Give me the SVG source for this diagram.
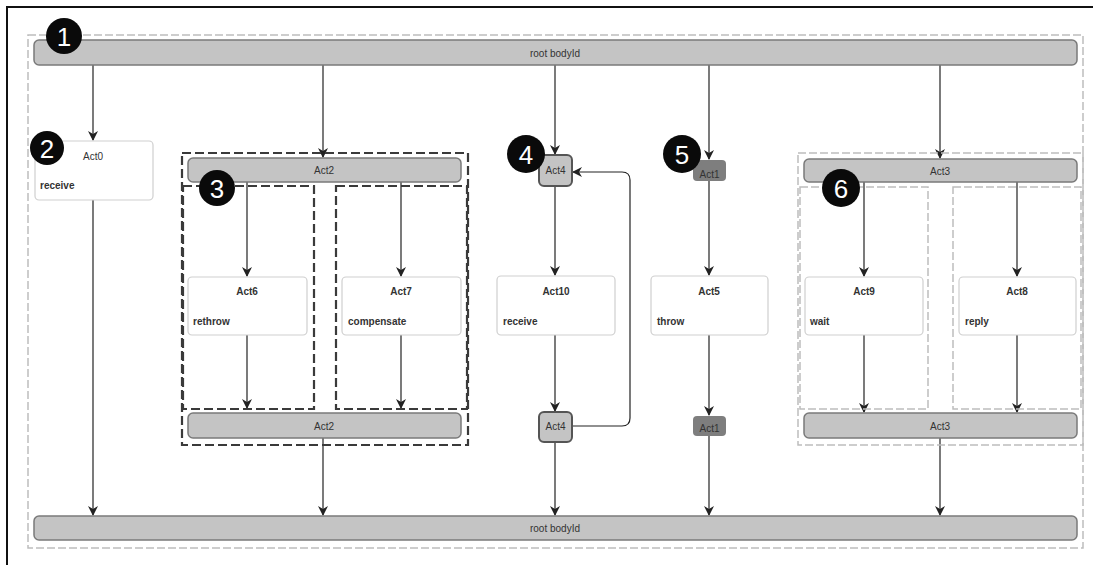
<svg xmlns="http://www.w3.org/2000/svg" width="1093" height="565" viewBox="0 0 1093 565">
<style>
  .bar{fill:#c4c4c4;stroke:#7a7a7a;stroke-width:1.5}
  .box{fill:#fff;stroke:#cfcfcf;stroke-width:1.2}
  .t{font-family:"Liberation Sans",Arial,sans-serif;font-size:10px;fill:#333}
  .tc{text-anchor:middle}
  .tb{font-family:"Liberation Sans",Arial,sans-serif;font-size:10px;fill:#333;font-weight:bold}
  .edge{fill:none;stroke:#222;stroke-width:1.2;marker-end:url(#ah)}
  .dk{fill:none;stroke:#3a3a3a;stroke-width:2.2;stroke-dasharray:9,4}
  .lt{fill:none;stroke:#bdbdbd;stroke-width:1.5;stroke-dasharray:8,3}
  .badge circle{fill:#0a0a0a}
  .badge text{font-family:"Liberation Sans",Arial,sans-serif;font-size:26px;fill:#fff;text-anchor:middle}
</style>
<defs>
  <marker id="ah" markerWidth="10" markerHeight="10" refX="9" refY="5" orient="auto" markerUnits="userSpaceOnUse">
    <path d="M0,0 L10,5 L0,10 L3,5 z" fill="#222"/>
  </marker>
</defs>
<rect width="1093" height="565" fill="#fff"/>
<path d="M7,565 V7 H1093" fill="none" stroke="#111" stroke-width="2"/>
<rect x="28" y="35" width="1055" height="513" class="lt"/>

<g id="connectors">
  <path class="edge" d="M93,65 V140"/>
  <path class="edge" d="M93,200 V515"/>
  <path class="edge" d="M323,65 V157"/>
  <path class="edge" d="M247,182 V276"/>
  <path class="edge" d="M247,335 V408"/>
  <path class="edge" d="M401,182 V276"/>
  <path class="edge" d="M401,335 V408"/>
  <path class="edge" d="M323,438 V515"/>
  <path class="edge" d="M555,65 V154"/>
  <path class="edge" d="M555,186 V275"/>
  <path class="edge" d="M555,335 V411"/>
  <path class="edge" d="M555,442 V515"/>
  <path class="edge" d="M572,426 H622 Q630,426 630,418 V180 Q630,172 622,172 H573"/>
  <path class="edge" d="M709,65 V159"/>
  <path class="edge" d="M709,181 V275"/>
  <path class="edge" d="M709,335 V415"/>
  <path class="edge" d="M709,435 V515"/>
  <path class="edge" d="M940,65 V158"/>
  <path class="edge" d="M864,182 V276"/>
  <path class="edge" d="M864,335 V412"/>
  <path class="edge" d="M1017,182 V276"/>
  <path class="edge" d="M1017,335 V412"/>
  <path class="edge" d="M940,438 V515"/>
</g>

<g id="rootTop">
  <rect class="bar" x="34" y="40" width="1043" height="25" rx="5"/>
  <text class="t tc" x="555" y="57">root bodyId</text>
</g>
<g id="rootBottom">
  <rect class="bar" x="34" y="516" width="1043" height="24" rx="5"/>
  <text class="t tc" x="555" y="532">root bodyId</text>
</g>

<g id="act0">
  <rect class="box" x="35" y="141" width="118" height="59" rx="4"/>
  <text class="t tc" x="93" y="160">Act0</text>
  <text class="tb" x="40" y="189" font-size="9">receive</text>
</g>

<g id="act2group">
  <rect class="dk" x="182" y="153" width="286" height="292"/>
  <rect class="dk" x="183" y="186" width="131" height="223"/>
  <rect class="dk" x="336" y="186" width="131" height="223"/>
  <rect class="bar" x="188" y="158" width="273" height="24" rx="5"/>
  <text class="t tc" x="324" y="174">Act2</text>
  <rect class="bar" x="188" y="413" width="273" height="25" rx="5"/>
  <text class="t tc" x="324" y="430">Act2</text>
</g>
<g id="act6">
  <rect class="box" x="188" y="277" width="119" height="58" rx="4"/>
  <text class="tb tc" x="247" y="295">Act6</text>
  <text class="tb" x="193" y="325" font-size="9">rethrow</text>
</g>
<g id="act7">
  <rect class="box" x="342" y="277" width="119" height="58" rx="4"/>
  <text class="tb tc" x="401" y="295">Act7</text>
  <text class="tb" x="348" y="325" font-size="9">compensate</text>
</g>

<g id="act4top">
  <rect x="539" y="155" width="33" height="31" rx="5" fill="#c4c4c4" stroke="#555" stroke-width="2"/>
  <text class="t tc" x="555.5" y="174" font-size="9">Act4</text>
</g>
<g id="act10">
  <rect class="box" x="497" y="276" width="118" height="59" rx="4"/>
  <text class="tb tc" x="556" y="295">Act10</text>
  <text class="tb" x="503" y="325" font-size="9">receive</text>
</g>
<g id="act4bottom">
  <rect x="539" y="412" width="33" height="30" rx="5" fill="#c4c4c4" stroke="#555" stroke-width="2"/>
  <text class="t tc" x="555.5" y="430" font-size="9">Act4</text>
</g>

<g id="act1top">
  <rect x="693" y="160" width="33" height="21" rx="4" fill="#7e7e7e"/>
  <text class="t tc" x="709.5" y="178" font-size="9" fill="#222">Act1</text>
</g>
<g id="act5">
  <rect class="box" x="651" y="276" width="117" height="59" rx="4"/>
  <text class="tb tc" x="709" y="295">Act5</text>
  <text class="tb" x="657" y="325" font-size="9">throw</text>
</g>
<g id="act1bottom">
  <rect x="693" y="416" width="33" height="20" rx="4" fill="#7e7e7e"/>
  <text class="t tc" x="709.5" y="432" font-size="9" fill="#222">Act1</text>
</g>

<g id="act3group">
  <rect class="lt" x="798" y="153" width="285" height="292"/>
  <rect class="lt" x="800" y="187" width="128" height="222"/>
  <rect class="lt" x="953" y="187" width="128" height="222"/>
  <rect class="bar" x="804" y="159" width="273" height="23" rx="5"/>
  <text class="t tc" x="940" y="175">Act3</text>
  <rect class="bar" x="804" y="413" width="273" height="25" rx="5"/>
  <text class="t tc" x="940" y="430">Act3</text>
</g>
<g id="act9">
  <rect class="box" x="805" y="277" width="118" height="58" rx="4"/>
  <text class="tb tc" x="864" y="295">Act9</text>
  <text class="tb" x="810" y="325" font-size="9">wait</text>
</g>
<g id="act8">
  <rect class="box" x="959" y="277" width="117" height="58" rx="4"/>
  <text class="tb tc" x="1017" y="295">Act8</text>
  <text class="tb" x="965" y="325" font-size="9">reply</text>
</g>

<g id="badges">
  <g class="badge"><circle cx="64" cy="36" r="18"/><text x="64" y="46">1</text></g>
  <g class="badge"><circle cx="47" cy="148" r="17"/><text x="47" y="158">2</text></g>
  <g class="badge"><circle cx="217" cy="188" r="18"/><text x="217" y="198">3</text></g>
  <g class="badge"><circle cx="526" cy="154" r="19"/><text x="526" y="164">4</text></g>
  <g class="badge"><circle cx="682" cy="154" r="19"/><text x="682" y="164">5</text></g>
  <g class="badge"><circle cx="841" cy="188" r="19"/><text x="841" y="198">6</text></g>
</g>
</svg>
